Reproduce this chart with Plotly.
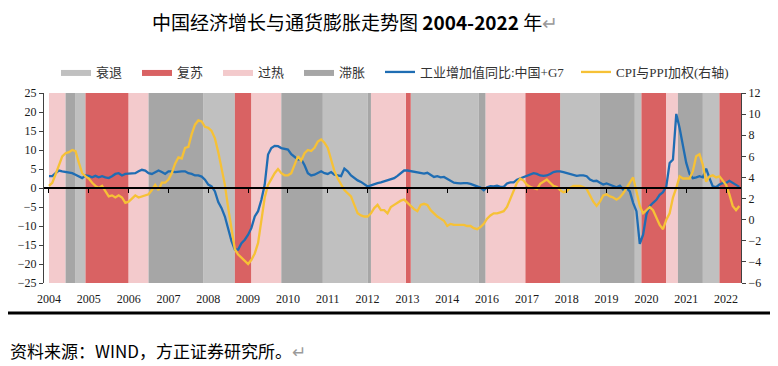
import plotly.graph_objects as go

# ---------------- data ----------------
# month index 0 = Jan of the first labelled year; tick labels as printed on the chart
tick_months = [0, 12, 24, 36, 48, 60, 72, 84, 96, 108, 120, 132, 144, 156, 168, 180, 192, 204]
tick_labels = ["2004", "2005", "2006", "2007", "2008", "2009", "2010", "2011", "2012",
               "2013", "2014", "2016", "2017", "2018", "2019", "2020", "2021", "2022"]

# economic phase bands (month boundaries) and their phase names
band_edges = [0, 5, 8, 11, 24, 30, 46.5, 56, 61, 70, 82.5, 96, 97, 107.5, 109, 129.5,
              131.5, 143.5, 154, 166, 176.5, 178.5, 186, 189.5, 197, 202, 208.5]
band_phase = ["过热", "滞胀", "衰退", "复苏", "过热", "滞胀", "衰退", "复苏", "过热", "滞胀",
              "衰退", "滞胀", "过热", "复苏", "衰退", "滞胀", "过热", "复苏", "衰退", "滞胀",
              "衰退", "复苏", "过热", "滞胀", "衰退", "复苏"]
phase_order = ["衰退", "复苏", "过热", "滞胀"]
phase_color = {"衰退": "#C0C0C0", "复苏": "#D96263", "过热": "#F3CACC", "滞胀": "#A6A6A6"}

# 工业增加值同比: 中国+G7 (left axis)
ip_growth = [3.1, 3.1, 3.9, 4.6, 4.4, 4.2, 4.2, 3.9, 3.5, 3.1, 2.6, 3.3, 3.2, 2.8, 3.2, 2.8,
             3.1, 2.8, 2.6, 3.1, 3.7, 3.9, 3.3, 3.7, 3.8, 3.9, 3.9, 4.4, 4.8, 4.6, 3.9, 3.7,
             4.2, 4.6, 4.2, 3.7, 4.4, 4.4, 4.2, 4.4, 4.4, 4.4, 3.9, 3.7, 3.3, 3.3, 3.0, 2.2,
             0.9, 0.4, -0.9, -3.7, -5.3, -7.5, -10.5, -14.0, -16.2, -16.2, -14.5, -13.6, -12.3, -10.5,
             -7.5, -6.1, -3.1, 0.9, 8.8, 10.5, 11.1, 11.0, 10.5, 10.3, 10.1, 8.9, 8.3, 7.5,
             7.6, 6.0, 3.9, 3.3, 3.5, 3.9, 4.4, 3.9, 3.7, 4.2, 3.5, 3.3, 3.1, 5.1, 4.4, 3.3,
             2.6, 2.0, 1.6, 0.9, 0.4, 0.7, 1.1, 1.3, 1.5, 1.8, 2.2, 2.4, 2.6, 3.2, 3.8, 4.6,
             4.6, 4.4, 4.3, 4.0, 3.8, 3.8, 4.0, 3.5, 2.9, 3.1, 2.8, 2.9, 2.4, 1.8, 1.4, 1.3,
             1.2, 1.3, 1.3, 1.1, 0.7, 0.4, 0.1, -0.6, 0.2, 0.5, 0.4, 0.6, 0.3, 0.3, 1.2, 1.5,
             1.5, 2.2, 2.5, 2.8, 3.3, 3.6, 3.9, 3.7, 3.3, 3.2, 3.3, 3.7, 4.2, 4.4, 4.4, 4.2,
             3.9, 3.7, 3.4, 3.2, 3.3, 3.3, 3.1, 2.2, 1.8, 1.9, 1.4, 0.9, 1.2, 0.8, 0.4, 0.2,
             0.6, -0.4, 0.0, -0.9, -3.9, -6.1, -14.7, -12.3, -7.0, -4.8, -3.9, -3.1, -1.8, -1.1,
             0.4, 6.6, 7.5, 19.5, 15.8, 11.0, 6.6, 3.7, 2.6, 2.8, 3.1, 2.8, 5.1, 2.6, 0.4, 0.2,
             0.9, 1.3, 1.3, 1.9, 1.3, 0.9, 0.3]

# CPI与PPI加权 (right axis)
cpi_ppi = [3.2, 3.5, 4.3, 5.2, 6.0, 6.3, 6.4, 6.6, 6.5, 5.4, 4.4, 4.1, 3.9, 3.5, 3.2, 3.0,
           3.2, 2.7, 2.2, 2.3, 2.1, 2.3, 2.1, 1.6, 1.7, 2.0, 2.3, 2.1, 2.2, 2.3, 2.4, 2.8,
           3.3, 2.8, 3.5, 3.5, 3.8, 4.4, 5.3, 5.9, 5.8, 6.8, 6.9, 8.1, 9.0, 9.4, 9.3, 8.8,
           8.7, 8.4, 7.7, 6.4, 4.9, 3.3, 1.1, -1.1, -2.8, -3.3, -3.6, -3.9, -4.2, -3.8,
           -3.2, -2.2, 0.2, 2.1, 3.3, 3.9, 4.4, 4.8, 4.4, 4.2, 4.2, 4.4, 5.2, 6.0,
           5.6, 6.3, 6.6, 6.5, 6.8, 7.4, 7.6, 7.3, 6.8, 5.8, 4.6, 3.9, 3.3, 2.8, 2.5, 2.2,
           1.4, 0.6, 0.4, 0.3, 0.3, 0.6, 1.1, 1.4, 0.9, 0.9, 0.6, 1.2, 1.4, 1.6, 1.8, 1.9,
           1.6, 1.3, 1.0, 0.8, 1.4, 1.5, 1.4, 0.9, 0.6, 0.3, 0.1, -0.1, -0.6, -0.4, -0.5, -0.5,
           -0.5, -0.5, -0.6, -0.6, -0.8, -0.9, -0.7, -0.4, 0.1, 0.4, 0.6, 0.6, 0.7, 0.8, 1.2, 2.0,
           2.8, 3.5, 3.9, 3.7, 3.3, 3.1, 3.0, 2.9, 3.4, 3.6, 3.8, 3.5, 3.2, 3.1, 2.8, 2.6,
           2.7, 3.0, 3.2, 3.2, 3.2, 3.1, 2.9, 2.3, 1.7, 1.3, 1.7, 2.3, 2.4, 2.2, 2.1, 1.9,
           2.1, 2.5, 3.0, 3.5, 4.0, 2.7, 1.3, 0.6, 0.9, 1.2, 0.9, 0.2, -0.5, -0.9,
           0.0, 0.6, 2.1, 3.0, 4.1, 3.9, 3.9, 3.9, 4.6, 6.0, 6.2, 5.2, 3.6, 4.1, 4.2, 4.0,
           4.1, 3.7, 3.3, 2.4, 1.3, 0.9, 1.3]

months_ip = list(range(len(ip_growth)))
months_cpi = list(range(len(cpi_ppi)))

left_range = [-25, 25]
right_range = [-6, 12]
x_range = [-1.5, 208.5]

# ---------------- figure ----------------
# page has an 8px body margin, so the figure is 770x358 and sits at (8, 8)
W, H = 770, 358
ML, MR, MT, MB = 36, 37, 85, 83
PW, PH = W - ML - MR, H - MT - MB

fig = go.Figure()

for ph in phase_order:
    xs, ys = [], []
    for i, p in enumerate(band_phase):
        if p != ph:
            continue
        a, b = band_edges[i], band_edges[i + 1]
        xs += [a, a, b, b, a, None]
        ys += [left_range[0], left_range[1], left_range[1], left_range[0], left_range[0], None]
    fig.add_trace(go.Scatter(
        x=xs, y=ys, name=ph, mode="lines", fill="toself",
        fillcolor=phase_color[ph], line=dict(width=0, color=phase_color[ph]),
        hoverinfo="skip", yaxis="y", legendwidth=36))

fig.add_trace(go.Scatter(
    x=months_ip, y=ip_growth, name="工业增加值同比:中国+G7", mode="lines",
    line=dict(color="#1F6DB3", width=2.3), yaxis="y", legendwidth=151))
fig.add_trace(go.Scatter(
    x=months_cpi, y=cpi_ppi, name="CPI与PPI加权(右轴)", mode="lines",
    line=dict(color="#F6C136", width=2.3), yaxis="y2"))

tick_font = dict(family="Liberation Serif, Times New Roman, serif", size=12, color="#1a1a1a")

fig.update_layout(
    width=W, height=H,
    margin=dict(l=ML, r=MR, t=MT, b=MB, autoexpand=False),
    paper_bgcolor="white", plot_bgcolor="white",
    showlegend=True,
    title=dict(
        text="中国经济增长与通货膨胀走势图 <b>2004-2022</b> 年<span style='color:#9a9a9a'>↵</span>",
        x=144 / W, xanchor="left", xref="container",
        y=1 - 15 / H, yanchor="middle", yref="container",
        font=dict(family="Noto Sans CJK SC, Liberation Sans, sans-serif", size=19, color="#000000"),
    ),
    legend=dict(
        orientation="h", x=(48 - ML) / PW, xanchor="left",
        y=(PH + MT - 64) / PH, yanchor="middle",
        font=dict(family="Liberation Serif, Noto Sans CJK SC, serif", size=13, color="#333333"),
        bgcolor="rgba(0,0,0,0)", itemwidth=30, tracegroupgap=0,
    ),
    xaxis=dict(
        range=x_range, anchor="free", position=0.5,
        showline=True, linecolor="#000000", linewidth=1.5,
        ticks="outside", ticklen=4, tickwidth=1, tickcolor="#000000",
        tickvals=tick_months, ticktext=tick_labels, tickfont=tick_font,
        ticklabelstandoff=96,
        showgrid=False, zeroline=False, layer="above traces",
    ),
    yaxis=dict(
        range=left_range, dtick=5, tick0=0, anchor="x", side="left",
        showline=True, linecolor="#404040", linewidth=1,
        ticks="outside", ticklen=4, tickcolor="#404040",
        tickfont=tick_font, showgrid=False, zeroline=False, layer="above traces",
    ),
    yaxis2=dict(
        range=right_range, dtick=2, tick0=0, overlaying="y", side="right", anchor="x",
        showline=True, linecolor="#404040", linewidth=1,
        ticks="outside", ticklen=4, tickcolor="#404040",
        tickfont=tick_font, showgrid=False, zeroline=False, layer="above traces",
    ),
    shapes=[dict(type="line", xref="paper", yref="paper",
                 x0=-ML / PW, x1=(W - ML) / PW, y0=-30 / PH, y1=-30 / PH,
                 line=dict(color="#000000", width=3))],
    annotations=[dict(
        text="资料来源：WIND，方正证券研究所。<span style='color:#9a9a9a'>↵</span>",
        xref="paper", yref="paper", x=-ML / PW, y=-67 / PH,
        xanchor="left", yanchor="middle", showarrow=False,
        font=dict(family="Noto Sans CJK SC, Liberation Sans, sans-serif", size=17, color="#000000"),
    )],
)

fig.write_html("out.html")
